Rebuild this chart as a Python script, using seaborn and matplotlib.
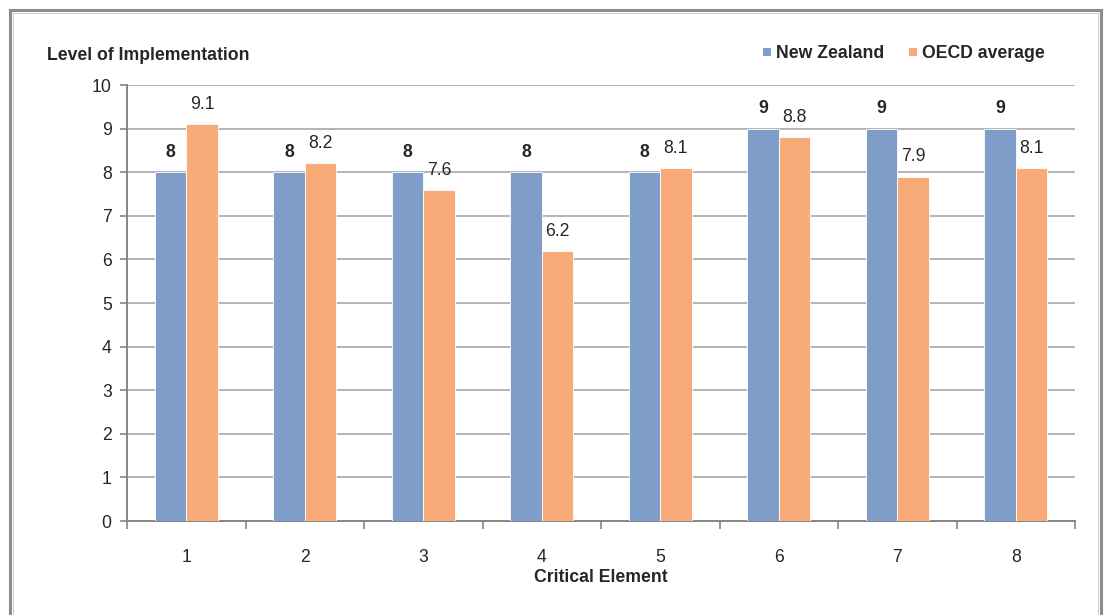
import matplotlib
matplotlib.use("Agg")
import matplotlib.pyplot as plt
import seaborn as sns
import pandas as pd
from matplotlib.patches import Rectangle
from matplotlib.ticker import MultipleLocator

elements = ["1", "2", "3", "4", "5", "6", "7", "8"]
new_zealand = [8, 8, 8, 8, 8, 9, 9, 9]
oecd_average = [9.1, 8.2, 7.6, 6.2, 8.1, 8.8, 7.9, 8.1]
series_names = ["New Zealand", "OECD average"]
colors = ["#7F9DC9", "#F8AA78"]

df = pd.DataFrame({
    "Critical Element": elements * 2,
    "Level": new_zealand + oecd_average,
    "Series": [series_names[0]] * len(elements) + [series_names[1]] * len(elements),
})

sns.set_style("white")
plt.rcParams["font.family"] = ["Liberation Sans", "DejaVu Sans"]
FS = 12.7

fig = plt.figure(figsize=(11.1, 6.15), dpi=100)
ax = fig.add_axes([127 / 1110, 1 - 521 / 615, (1075 - 127) / 1110, (521 - 85) / 615])

sns.barplot(data=df, x="Critical Element", y="Level", hue="Series",
            palette=colors, saturation=1, width=0.53, ax=ax, legend=False,
            edgecolor="white", linewidth=0.6, zorder=3)

ax.set_xlim(-0.5, len(elements) - 0.5)
ax.set_ylim(0, 10)
ax.yaxis.set_major_locator(MultipleLocator(1))
ax.grid(axis="y", color="#B4B4B4", linewidth=1.4, zorder=0)
ax.set_axisbelow(True)

for side in ["top", "right"]:
    ax.spines[side].set_visible(False)
for side in ["left", "bottom"]:
    ax.spines[side].set_color("#868686")
    ax.spines[side].set_linewidth(1.4)

ax.tick_params(axis="y", length=5, width=1.2, color="#868686", left=True,
               labelsize=FS, pad=6)
ax.tick_params(axis="x", length=0, labelsize=FS, pad=20)
# category separators below the x axis
ax.set_xticks([i - 0.5 for i in range(len(elements) + 1)], minor=True)
ax.tick_params(axis="x", which="minor", length=6, width=1.2, color="#868686", bottom=True)

ax.set_ylabel("")
ax.set_xlabel("Critical Element", fontsize=FS, fontweight="bold", labelpad=2)

# value labels above bars
for container, weight in zip(ax.containers, ["bold", "normal"]):
    vals = container.datavalues
    labels = [f"{v:g}" if weight == "bold" else f"{v:.1f}" for v in vals]
    ax.bar_label(container, labels=labels, padding=8, fontsize=FS, fontweight=weight)

fig.text(47 / 1110, 1 - 56 / 615, "Level of Implementation", fontsize=FS,
         fontweight="bold", va="center", ha="left")

# legend
legend_items = [(763, series_names[0], colors[0]), (909, series_names[1], colors[1])]
for x0, name, col in legend_items:
    fig.patches.append(Rectangle((x0 / 1110, 1 - 56 / 615), 8 / 1110, 8 / 615,
                                 transform=fig.transFigure, facecolor=col,
                                 edgecolor="none"))
    fig.text((x0 + 13) / 1110, 1 - 53 / 615, name, fontsize=FS,
             fontweight="bold", va="center", ha="left")

# chart frame
fig.patches.append(Rectangle((10 / 1110, -0.05), (1101 - 10) / 1110, 1 - 10 / 615 + 0.05,
                             transform=fig.transFigure, facecolor="none",
                             edgecolor="#8C8C8C", linewidth=2.2))
fig.patches.append(Rectangle((13 / 1110, -0.05), (1098 - 13) / 1110, 1 - 13 / 615 + 0.05,
                             transform=fig.transFigure, facecolor="none",
                             edgecolor="#D0D0D0", linewidth=0.8))

fig.savefig("out.png", dpi=100)
